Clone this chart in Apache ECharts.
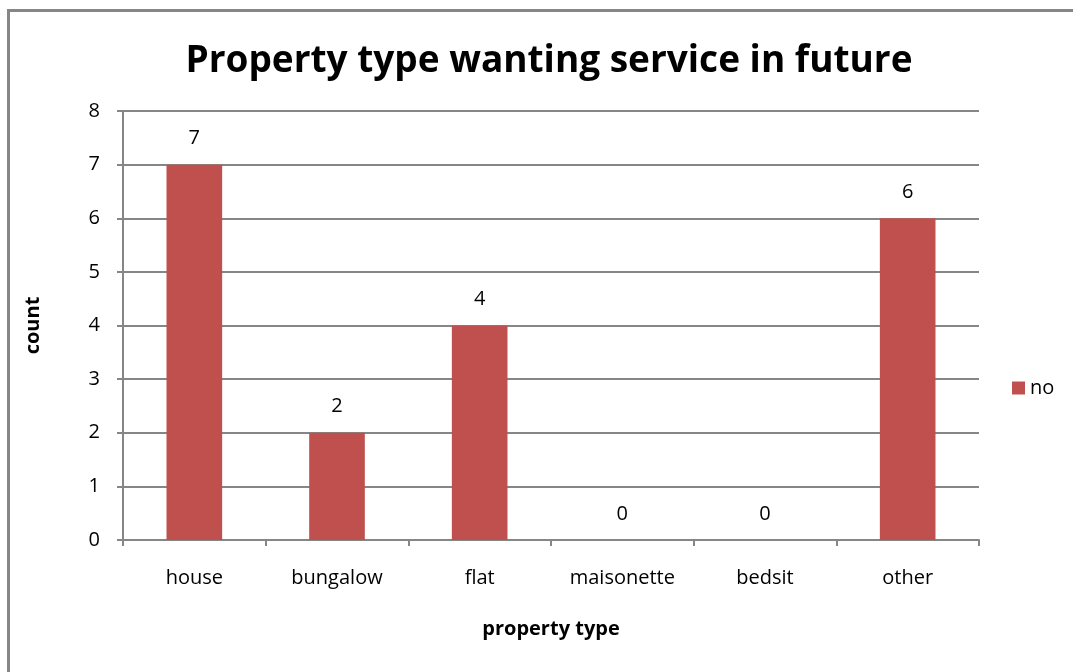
<!DOCTYPE html>
<html>
<head>
<meta charset="utf-8">
<script src="https://cdn.jsdelivr.net/npm/echarts@6/dist/echarts.min.js"></script>
<style>
  html, body { margin: 0; padding: 0; background: #fff; }
  #frame { position: absolute; left: 7px; top: 9px; width: 1080px; height: 680px;
           border: 3px solid #868686; box-sizing: border-box; }
  #chart { position: absolute; left: 0; top: 0; width: 1073px; height: 672px; }
</style>
</head>
<body>
<div id="frame"></div>
<div id="chart"></div>
<script>
const categories = ['house', 'bungalow', 'flat', 'maisonette', 'bedsit', 'other'];
const noCounts = [7, 2, 4, 0, 0, 6];
const yTicks = [0, 1, 2, 3, 4, 5, 6, 7, 8];

const FONT = '"Open Sans", "Noto Sans", sans-serif';
const chart = echarts.init(document.getElementById('chart'), null, { renderer: 'canvas' });

chart.setOption({
  animation: false,
  backgroundColor: 'transparent',
  title: {
    text: 'Property type wanting service in future',
    left: 544, top: 38, textAlign: 'center',
    textStyle: { fontFamily: FONT, fontSize: 37, fontWeight: 'bold', color: '#000' }
  },
  legend: {
    data: ['no'],
    orient: 'vertical',
    left: 1007, top: 373,
    itemWidth: 13, itemHeight: 13, itemGap: 8,
    icon: 'rect',
    textStyle: { fontFamily: FONT, fontSize: 20, color: '#000' }
  },
  grid: { left: 123, right: 94, top: 111, bottom: 132, containLabel: false },
  xAxis: {
    type: 'category',
    data: categories,
    name: 'property type',
    nameLocation: 'middle',
    nameGap: 79,
    nameTextStyle: { fontFamily: FONT, fontSize: 20, fontWeight: 'bold', color: '#000' },
    axisLine: { lineStyle: { color: '#868686', width: 2 } },
    axisTick: { show: true, length: 6, lineStyle: { color: '#868686', width: 2 } },
    axisLabel: { fontFamily: FONT, fontSize: 20, color: '#000', margin: 28 },
    splitLine: { show: false }
  },
  yAxis: {
    type: 'value',
    min: yTicks[0], max: yTicks[yTicks.length - 1], interval: 1,
    name: 'count',
    nameLocation: 'middle',
    nameGap: 80,
    nameRotate: 90,
    nameTextStyle: { fontFamily: FONT, fontSize: 20, fontWeight: 'bold', color: '#000' },
    axisLine: { show: true, lineStyle: { color: '#868686', width: 2 } },
    axisTick: { show: true, length: 6, lineStyle: { color: '#868686', width: 2 } },
    axisLabel: { fontFamily: FONT, fontSize: 20, color: '#000', margin: 23 },
    splitLine: { show: true, lineStyle: { color: '#868686', width: 2 } }
  },
  series: [{
    name: 'no',
    type: 'bar',
    data: noCounts,
    barWidth: '39%',
    itemStyle: { color: '#C0504D' },
    label: {
      show: true, position: 'top', distance: 16,
      fontFamily: FONT, fontSize: 20, color: '#000'
    }
  }]
});
</script>
</body>
</html>
